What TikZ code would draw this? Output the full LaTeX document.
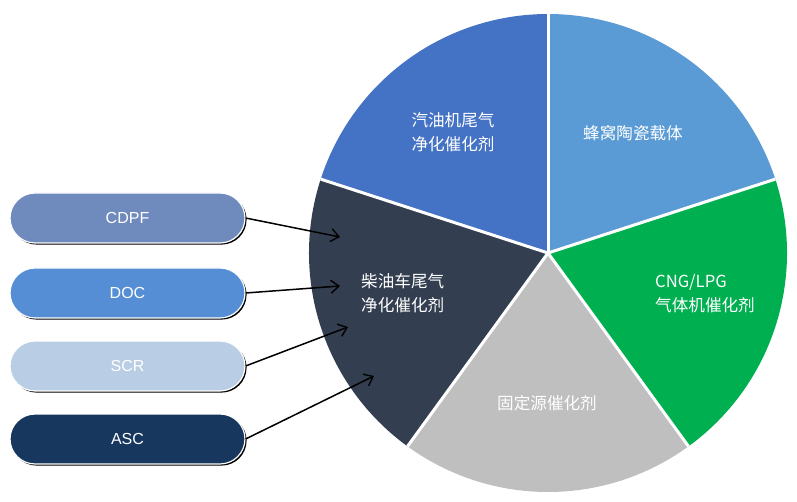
\documentclass[tikz,border=0pt]{standalone}
\usepackage{fontspec}
\setmainfont{Liberation Sans}
\newfontfamily\cjk{Noto Sans CJK SC}
\usetikzlibrary{arrows.meta,shadows,shapes.misc}
\definecolor{cBlue}{HTML}{4472C4}
\definecolor{cLight}{HTML}{5B9BD5}
\definecolor{cGreen}{HTML}{00B050}
\definecolor{cGray}{HTML}{BFBFBF}
\definecolor{cDark}{HTML}{333F50}
\definecolor{pCDPF}{HTML}{6F8BBE}
\definecolor{pDOC}{HTML}{558ED5}
\definecolor{pSCR}{HTML}{B9CDE5}
\definecolor{pASC}{HTML}{17375E}
\begin{document}
\begin{tikzpicture}[x=1pt,y=1pt,
  pill/.style={rounded rectangle,minimum width=235pt,minimum height=50pt,inner sep=0pt,
    draw=white,line width=1.2pt,text=white,font=\fontsize{16pt}{18pt}\selectfont,
    drop shadow={opacity=1,fill=black,shadow xshift=1.6pt,shadow yshift=-1.6pt}},
  lab/.style={text=white,font=\cjk\fontsize{16.6pt}{24pt}\selectfont,inner sep=0pt},
  arr/.style={line width=1.5pt,-{Straight Barb[length=8pt,width=13pt,line width=1.4pt]}}]
\useasboundingbox (0,0) rectangle (797,501);
\coordinate (C) at (548,248);
\def\R{239pt}
\fill[cBlue] (C) -- ++(90:\R) arc[start angle=90,end angle=162,radius=\R] -- cycle;
\fill[cLight] (C) -- ++(18:\R) arc[start angle=18,end angle=90,radius=\R] -- cycle;
\fill[cGreen] (C) -- ++(-54:\R) arc[start angle=-54,end angle=18,radius=\R] -- cycle;
\fill[cGray] (C) -- ++(-126:\R) arc[start angle=-126,end angle=-54,radius=\R] -- cycle;
\fill[cDark] (C) -- ++(162:\R) arc[start angle=162,end angle=234,radius=\R] -- cycle;
\foreach \a in {90,18,-54,-126,162}{\draw[white,line width=3pt] (C) -- ++(\a:\R);}
\node[lab,align=center] (gas) at (453,369) {汽油机尾气\\净化催化剂};
\node[lab] (honey) at (633,368) {蜂窝陶瓷载体};
\node[lab,align=left,anchor=west] (diesel) at (361,207.5) {柴油车尾气\\净化催化剂};
\node[lab,align=left,anchor=west] (cng) at (655,207) {CNG/LPG\\气体机催化剂};
\node[lab] (fixed) at (547,98) {固定源催化剂};
\node[pill,fill=pCDPF] (cdpf) at (127.5,283) {CDPF};
\node[pill,fill=pDOC] (doc) at (127.5,208) {DOC};
\node[pill,fill=pSCR] (scr) at (127.5,135) {SCR};
\node[pill,fill=pASC] (asc) at (127.5,62) {ASC};
\coordinate (e1) at (340,264);
\coordinate (e2) at (340,215);
\coordinate (e3) at (348,174);
\coordinate (e4) at (374,125);
\draw[arr] (cdpf.east) -- (e1);
\draw[arr] (doc.east) -- (e2);
\draw[arr] (scr.east) -- (e3);
\draw[arr] (asc.east) -- (e4);
\end{tikzpicture}
\end{document}
